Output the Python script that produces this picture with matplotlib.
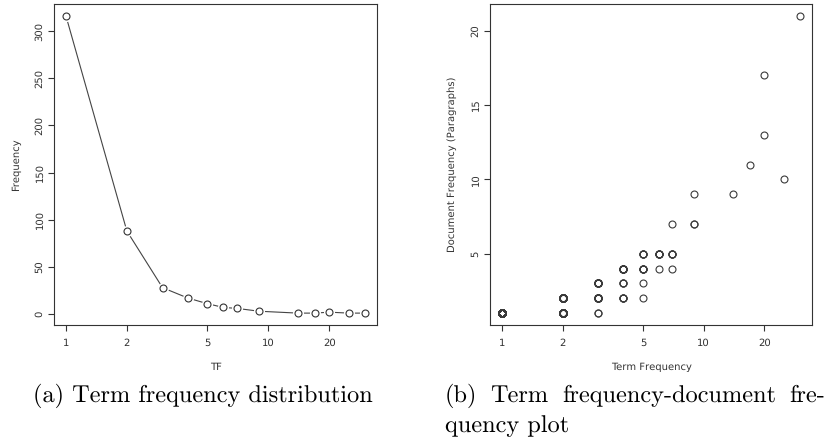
import numpy as np
import matplotlib
matplotlib.use("Agg")
import matplotlib.pyplot as plt
from matplotlib.patches import Rectangle
from matplotlib.ticker import NullLocator, FixedLocator, FixedFormatter

plt.rcParams["text.hinting"] = "no_hinting"
plt.rcParams["text.hinting_factor"] = 1

# --- data ---
# (a) term frequency distribution
tf_values = [1, 2, 3, 4, 5, 6, 7, 9, 14, 17, 20, 25, 30]
tf_counts = [316, 88, 28, 17, 11, 7, 6, 3, 1, 1, 2, 1, 1]

# (b) term frequency vs document frequency, one entry per distinct point
# n_terms = how many terms sit on the same spot (overplotting makes them bold)
pt_tf = [1, 2, 2, 3, 3, 3, 4, 4, 4, 5, 5, 5, 5, 6, 6, 7, 7, 7, 9, 9, 14, 17, 20, 20, 25, 30]
pt_df = [1, 1, 2, 1, 2, 3, 2, 3, 4, 2, 3, 4, 5, 4, 5, 4, 5, 7, 7, 9, 9, 11, 13, 17, 10, 21]
pt_n = [316, 50, 38, 2, 14, 12, 4, 3, 10, 1, 1, 5, 4, 1, 6, 1, 4, 1, 2, 1, 1, 1, 1, 1, 1, 1]

x_ticks = [1, 2, 5, 10, 20]
y_ticks_a = [0, 50, 100, 150, 200, 250, 300]
y_ticks_b = [5, 10, 15, 20]

caption_a = "(a) Term frequency distribution"
caption_b1 = ["(b)", "Term", "frequency-document", "fre-"]
caption_b2 = "quency plot"

W, H = 831, 438
ink = "#333333"


def rect(l, t, r, b):
    return [l / W, 1 - b / H, (r - l) / W, (b - t) / H]


def style_axes(ax, yticks, xlabel, ylabel):
    ax.set_xscale("log")
    ax.xaxis.set_major_locator(FixedLocator(x_ticks))
    ax.xaxis.set_major_formatter(FixedFormatter([str(v) for v in x_ticks]))
    ax.xaxis.set_minor_locator(NullLocator())
    ax.set_yticks(yticks)
    ax.set_xlim(10 ** -0.059, 10 ** 1.537)
    for s in ax.spines.values():
        s.set_color(ink)
        s.set_linewidth(0.8)
    ax.tick_params(axis="both", length=4.3, width=0.8, color=ink,
                   labelsize=7, labelcolor=ink)
    ax.tick_params(axis="x", pad=5)
    ax.tick_params(axis="y", pad=2.5, labelrotation=90)
    for lab in ax.get_yticklabels():
        lab.set_va("center")
    ax.set_xlabel(xlabel, fontsize=7, color=ink, va="center")
    ax.xaxis.set_label_coords(0.5, (325 - 367) / 321)
    ax.set_ylabel(ylabel, fontsize=7, color=ink, va="center")
    ax.yaxis.set_label_coords(-0.118, 0.5)


fig = plt.figure(figsize=(W / 100, H / 100), dpi=100)

# (a)
ax1 = fig.add_axes(rect(54, 4, 377, 325))
ax1.plot(tf_values, tf_counts, color="#444444", lw=0.8, zorder=2)
ax1.plot(tf_values, tf_counts, "o", ms=8, mfc="white", mec="none", zorder=3)
ax1.plot(tf_values, tf_counts, "o", ms=5, mfc="none", mec=ink, mew=0.8, zorder=4)
ax1.set_ylim(-11.6, 328.6)
style_axes(ax1, y_ticks_a, "TF", "Frequency")

# (b)
ax2 = fig.add_axes(rect(490, 4, 812, 325))
xs = np.repeat(pt_tf, pt_n)
ys = np.repeat(pt_df, pt_n)
ax2.plot(xs, ys, "o", ls="none", ms=5, mfc="none", mec="#3a3a3a", mew=0.8)
ax2.set_ylim(0.2, 21.8)
style_axes(ax2, y_ticks_b, "Term Frequency", "Document Frequency (Paragraphs)")

# caption area sits over the bottom of the axis labels
fig.add_artist(Rectangle((0, 0), 1, (H - 371.5) / H, transform=fig.transFigure,
                         facecolor="white", edgecolor="none", zorder=5))

cap = dict(family="cmr10", fontsize=17.5, color="black", va="baseline", zorder=6)
fig.text(33 / W, 1 - 402 / H, caption_a, ha="left", **cap)

# justified first line of caption (b)
renderer = fig.canvas.get_renderer()
words = [fig.text(0, 1 - 402 / H, w, ha="left", **cap) for w in caption_b1]
widths = [t.get_window_extent(renderer).width for t in words]
gap = (825 - 445 - sum(widths)) / (len(words) - 1)
xpos = 445
for t, w in zip(words, widths):
    t.set_x(xpos / W)
    xpos += w + gap
fig.text(445 / W, 1 - 432 / H, caption_b2, ha="left", **cap)

fig.savefig("out.png", dpi=100, facecolor="white")
